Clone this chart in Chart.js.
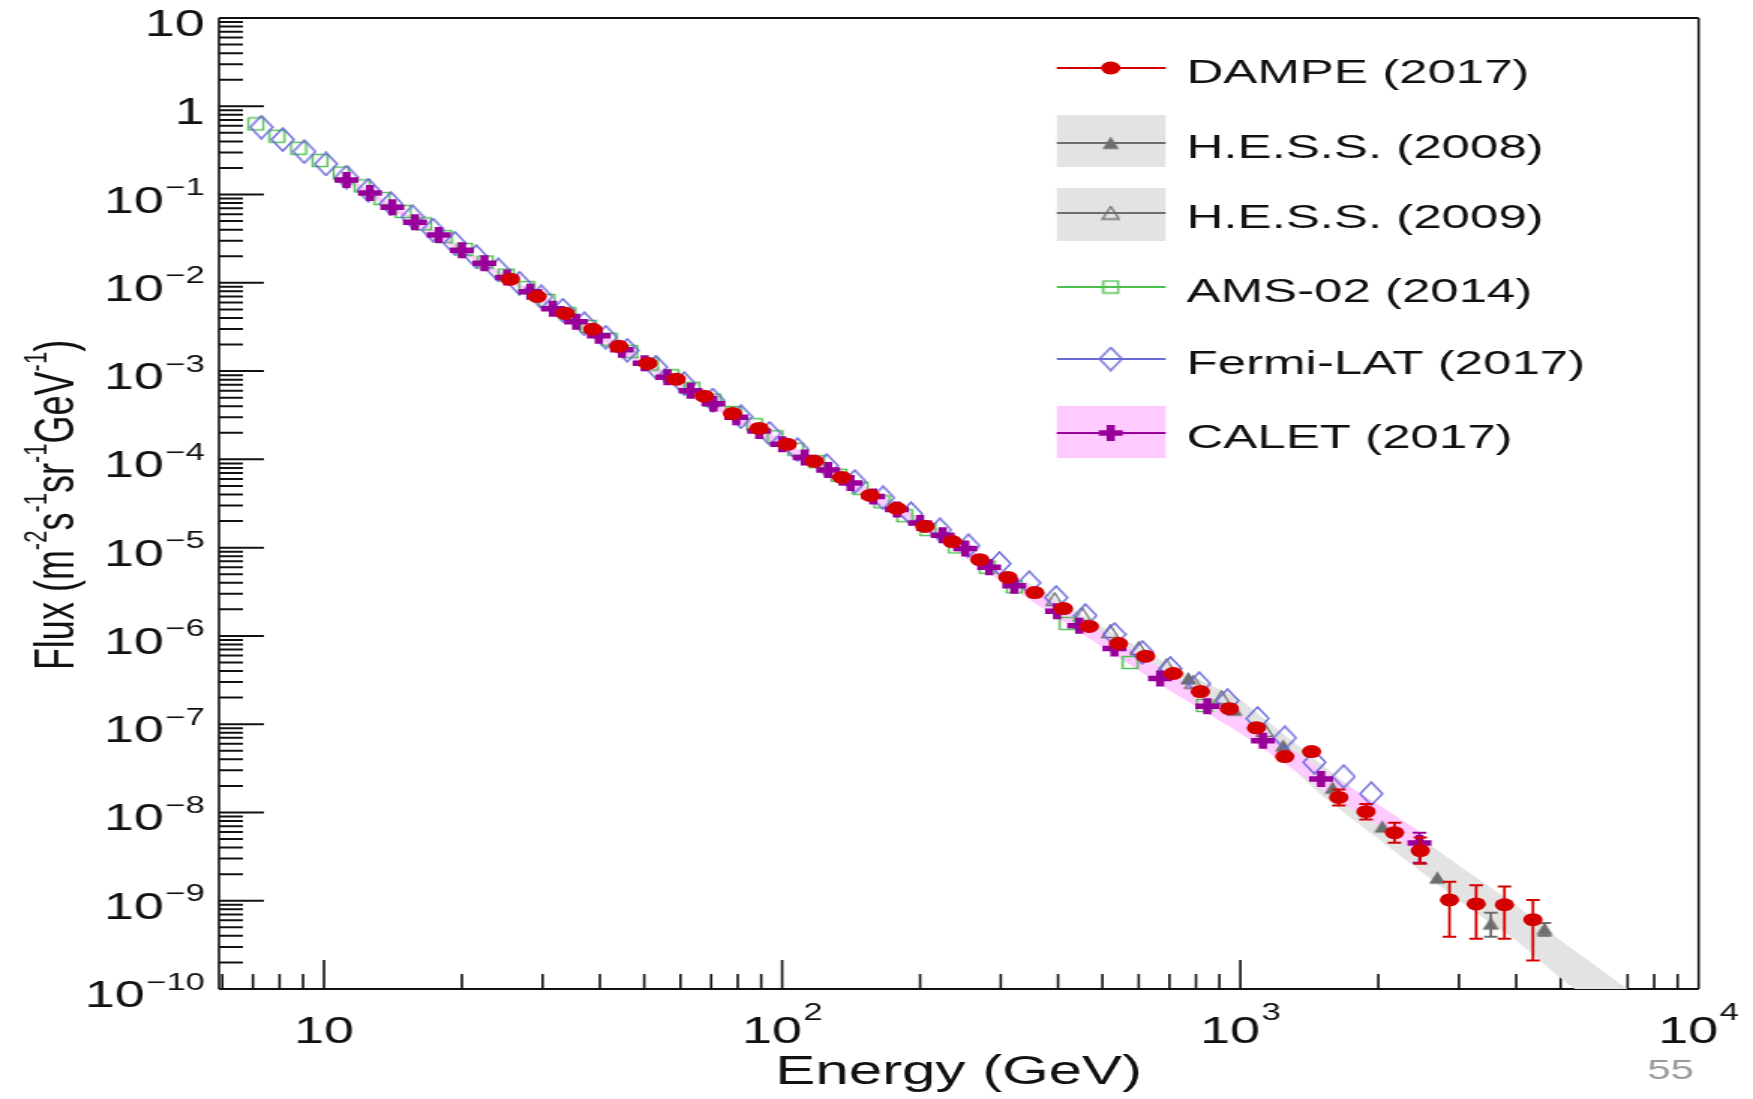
<!DOCTYPE html>
<html lang="en">
<head>
<meta charset="utf-8">
<title>Electron + positron flux</title>
<script src="https://cdn.jsdelivr.net/npm/chart.js@4.4.1/dist/chart.umd.min.js"></script>
<style>
    html, body { margin: 0; padding: 0; background: #ffffff; overflow: hidden; }
    /* o slide original foi esticado na horizontal: desenha estreito e alarga */
    #palco { width: 1169px; height: 1099px; transform: scaleX(1.49957); transform-origin: 0 0; }
    #grafico { display: block; }
</style>
</head>
<body>
<div id="palco"><canvas id="grafico" width="1169" height="1099"></canvas></div>
<script>
// DAMPE (2017)
const dampeE = [25.5, 29.2, 33.6, 38.6, 44.0, 50.9, 58.7, 67.6, 77.9, 89.1, 102.6, 117.5, 135, 155.7, 178, 205, 235, 270, 311, 356, 411, 468, 542, 621, 714, 818, 946, 1084, 1250, 1430, 1640, 1880, 2170, 2470, 2860, 3270, 3770, 4350];
const dampeF = [1.1e-2, 7.0e-3, 4.5e-3, 2.98e-3, 1.91e-3, 1.22e-3, 8.1e-4, 5.2e-4, 3.3e-4, 2.24e-4, 1.48e-4, 9.5e-5, 6.25e-5, 3.9e-5, 2.78e-5, 1.74e-5, 1.17e-5, 7.3e-6, 4.6e-6, 3.1e-6, 2.04e-6, 1.28e-6, 8.2e-7, 5.9e-7, 3.75e-7, 2.34e-7, 1.5e-7, 9.1e-8, 4.3e-8, 4.9e-8, 1.48e-8, 1.02e-8, 5.9e-9, 3.7e-9, 1.02e-9, 9.2e-10, 9.0e-10, 6.1e-10];
const dampeLo = [null, null, null, null, null, null, null, null, null, null, null, null, null, null, null, null, null, null, null, null, null, null, null, null, null, null, null, null, null, null, 1.2e-8, 8.3e-9, 4.55e-9, 2.63e-9, 3.9e-10, 3.7e-10, 3.7e-10, 2.1e-10];
const dampeHi = [null, null, null, null, null, null, null, null, null, null, null, null, null, null, null, null, null, null, null, null, null, null, null, null, null, null, null, null, null, null, 1.82e-8, 1.25e-8, 7.65e-9, 5.2e-9, 1.64e-9, 1.5e-9, 1.45e-9, 1.02e-9];

// H.E.S.S. (2008) e (2009)
const hess08E = [770, 970, 1240, 1590, 2040, 2690, 3520, 4610];
const hess08F = [3.3e-7, 1.45e-7, 5.7e-8, 1.9e-8, 6.9e-9, 1.82e-9, 5.5e-10, 4.8e-10];
const hess08Lo = [null, null, null, null, null, null, 3.9e-10, 4.0e-10];
const hess08Hi = [null, null, null, null, null, null, 7.3e-10, 5.6e-10];
const hess09E = [393, 452, 520, 600, 690, 790, 910, 1130];
const hess09F = [2.6e-6, 1.75e-6, 1.12e-6, 7.2e-7, 4.6e-7, 3.0e-7, 2.0e-7, 8.5e-8];

// faixa sistematica H.E.S.S.
const hessBandE = [340, 500, 700, 1000, 1500, 2000, 3000, 4000, 5000, 7000, 8000];
const hessBandHi = [4.2e-6, 1.26e-6, 4.7e-7, 1.9e-7, 3.55e-8, 1.12e-8, 2.5e-9, 8.9e-10, 3.55e-10, 1.0e-10, 5.6e-11];
const hessBandLo = [3.2e-6, 9.1e-7, 3.2e-7, 1.12e-7, 1.58e-8, 5.0e-9, 1.0e-9, 3.55e-10, 1.32e-10, 3.55e-11, 2.0e-11];

// AMS-02 (2014)
const amsE = [7.1, 7.9, 8.8, 9.8, 10.9, 12.1, 13.4, 14.9, 16.5, 18.3, 20.3, 22.5, 25.0, 27.7, 30.7, 34.1, 37.8, 41.9, 46.5, 51.6, 57.2, 63.5, 70.5, 78.3, 87.0, 96.6, 107, 119, 133, 148, 165, 185, 208, 240, 280, 321, 419, 575, 834];
const amsF = [0.63, 0.458, 0.335, 0.243, 0.175, 0.125, 0.090, 0.0643, 0.0465, 0.0333, 0.0239, 0.0172, 0.01225, 0.00883, 0.00631, 0.00447, 0.00321, 0.0023, 0.00166, 0.0012, 8.85e-4, 6.4e-4, 4.69e-4, 3.4e-4, 2.47e-4, 1.8e-4, 1.3e-4, 9.4e-5, 6.6e-5, 4.7e-5, 3.3e-5, 2.3e-5, 1.6e-5, 1.02e-5, 6.0e-6, 3.6e-6, 1.38e-6, 5.0e-7, 1.63e-7];

// Fermi-LAT (2017)
const fermiE = [7.3, 8.13, 9.06, 10.1, 11.2, 12.5, 14.0, 15.6, 17.3, 19.3, 21.5, 24.0, 26.7, 29.8, 33.2, 37.0, 41.2, 45.9, 53.0, 61.1, 70.5, 81.3, 93.8, 108, 125, 144, 166, 191, 221, 255, 298, 346, 396, 459, 531, 611, 703, 813, 937, 1090, 1250, 1450, 1680, 1930];
const fermiF = [0.58, 0.42, 0.306, 0.222, 0.158, 0.112, 0.079, 0.056, 0.0396, 0.028, 0.0198, 0.014, 0.00989, 0.00695, 0.00489, 0.00344, 0.00242, 0.00172, 0.00111, 7.2e-4, 4.7e-4, 3.04e-4, 1.97e-4, 1.29e-4, 8.5e-5, 5.6e-5, 3.67e-5, 2.42e-5, 1.59e-5, 1.05e-5, 6.6e-6, 4.0e-6, 2.72e-6, 1.70e-6, 1.04e-6, 6.5e-7, 4.27e-7, 2.88e-7, 1.85e-7, 1.16e-7, 7.0e-8, 3.7e-8, 2.55e-8, 1.63e-8];

// CALET (2017)
const calE = [11.2, 12.6, 14.1, 15.8, 17.8, 20.0, 22.4, 25.1, 28.2, 31.6, 35.5, 39.8, 44.7, 50.1, 56.2, 63.1, 70.8, 79.4, 89.1, 100, 112, 126, 141, 158, 178, 200, 224, 251, 283, 321, 398, 445, 531, 668, 847, 1120, 1500, 2460];
const calF = [0.146, 0.104, 0.072, 0.0486, 0.0347, 0.0234, 0.0167, 0.0115, 0.0079, 0.0051, 0.00363, 0.00251, 0.00174, 0.00123, 8.5e-4, 6.0e-4, 4.27e-4, 3.0e-4, 2.09e-4, 1.48e-4, 1.05e-4, 7.6e-5, 5.4e-5, 3.8e-5, 2.7e-5, 1.9e-5, 1.38e-5, 9.8e-6, 6.0e-6, 3.7e-6, 1.9e-6, 1.3e-6, 7.2e-7, 3.3e-7, 1.6e-7, 6.5e-8, 2.4e-8, 4.5e-9];
const calLo = calE.map(function (e) { return e === 2460 ? 2.7e-9 : null; });
const calHi = calE.map(function (e) { return e === 2460 ? 5.9e-9 : null; });

// faixa sistematica CALET
const calBandE = [11, 20, 50, 100, 200, 400, 700, 1000, 1500, 2000, 2500];
const calBandHi = [0.17, 0.0251, 1.35e-3, 1.66e-4, 2.19e-5, 2.29e-6, 3.8e-7, 1.26e-7, 3.1e-8, 1.23e-8, 5.75e-9];
const calBandLo = [0.148, 0.0219, 1.12e-3, 1.32e-4, 1.66e-5, 1.58e-6, 2.4e-7, 7.9e-8, 1.86e-8, 7.1e-9, 3.16e-9];

// rotulos dos eixos
const yTickValues = [10, 1, 1e-1, 1e-2, 1e-3, 1e-4, 1e-5, 1e-6, 1e-7, 1e-8, 1e-9, 1e-10];
const yTickBase = ["10", "1", "10", "10", "10", "10", "10", "10", "10", "10", "10", "10"];
const yTickSup = ["", "", "\u22121", "\u22122", "\u22123", "\u22124", "\u22125", "\u22126", "\u22127", "\u22128", "\u22129", "\u221210"];
const xTickValues = [10, 100, 1000, 10000];
const xTickBase = ["10", "10", "10", "10"];
const xTickSup = ["", "2", "3", "4"];

const corVermelho = "#d40000";
const corCinza = "#6e6e6e";
const corVerde = "#4cc04c";
const corAzul = "#6a6ad8";
const corRoxo = "#990099";
const corFaixaCinza = "#e3e3e3";
const corFaixaRosa = "#ffcaff";
const fonte = "\"Liberation Sans\", Arial, Helvetica, sans-serif";

function pontos(xs, ys) {
    return xs.map(function (x, i) { return { x: x, y: ys[i] }; });
}

function criarMarcador(w, h, desenho) {
    const c = document.createElement("canvas");
    c.width = w;
    c.height = h;
    desenho(c.getContext("2d"), w, h);
    return c;
}

const marcaDiamante = criarMarcador(17, 25, function (g, w, h) {
    g.strokeStyle = corAzul;
    g.lineWidth = 1.4;
    g.beginPath();
    g.moveTo(w / 2, 1);
    g.lineTo(w - 1, h / 2);
    g.lineTo(w / 2, h - 1);
    g.lineTo(1, h / 2);
    g.closePath();
    g.stroke();
});

const marcaQuadrado = criarMarcador(13, 15, function (g, w, h) {
    g.strokeStyle = corVerde;
    g.lineWidth = 1.4;
    g.strokeRect(1.5, 1.5, w - 3, h - 3);
});

function triangulo(cheio) {
    return criarMarcador(13, 15, function (g, w, h) {
        g.beginPath();
        g.moveTo(w / 2, 1);
        g.lineTo(w - 1, h - 1.5);
        g.lineTo(1, h - 1.5);
        g.closePath();
        if (cheio) {
            g.fillStyle = corCinza;
            g.fill();
        } else {
            g.strokeStyle = corCinza;
            g.lineWidth = 1.3;
            g.stroke();
        }
    });
}

function faixa(xs, ys, ordem, preenchimento, cor) {
    return {
        type: "line",
        data: pontos(xs, ys),
        order: ordem,
        showLine: true,
        borderWidth: 0,
        borderColor: "rgba(0,0,0,0)",
        backgroundColor: cor || "rgba(0,0,0,0)",
        pointRadius: 0,
        fill: preenchimento,
        tension: 0
    };
}

// desenha texto do tipo 10^{-n}
function medirRotulo(ctx, base, exp, tamBase, tamExp) {
    ctx.font = tamBase + "px " + fonte;
    const wb = ctx.measureText(base).width;
    ctx.font = tamExp + "px " + fonte;
    const we = exp ? ctx.measureText(exp).width + 1 : 0;
    return [wb, we];
}

const pluginEixos = {
    id: "eixosRoot",
    beforeDatasetsDraw(chart) {
        const ctx = chart.ctx;
        const a = chart.chartArea;
        const x = chart.scales.x;
        const y = chart.scales.y;
        ctx.save();
        ctx.strokeStyle = "#111111";
        ctx.lineWidth = 2;
        ctx.beginPath();
        ctx.moveTo(a.left, a.top);
        ctx.lineTo(a.right, a.top);
        ctx.moveTo(a.left, a.bottom);
        ctx.lineTo(a.right, a.bottom);
        ctx.stroke();
        ctx.lineWidth = 1.6;
        ctx.beginPath();
        ctx.moveTo(a.left, a.top);
        ctx.lineTo(a.left, a.bottom);
        ctx.moveTo(a.right, a.top);
        ctx.lineTo(a.right, a.bottom);
        ctx.stroke();

        // marcas do eixo y
        ctx.lineWidth = 2;
        ctx.beginPath();
        for (let e = -10; e <= 0; e++) {
            for (let k = 1; k <= 9; k++) {
                const py = y.getPixelForValue(k * Math.pow(10, e));
                ctx.moveTo(a.left, py);
                ctx.lineTo(a.left + (k === 1 ? 30 : 16), py);
            }
        }
        ctx.stroke();

        // marcas do eixo x
        ctx.lineWidth = 1.6;
        ctx.beginPath();
        for (let e = 0; e <= 3; e++) {
            for (let k = 1; k <= 9; k++) {
                const v = k * Math.pow(10, e);
                if (v < x.min) continue;
                const px = x.getPixelForValue(v);
                ctx.moveTo(px, a.bottom);
                ctx.lineTo(px, a.bottom - (k === 1 ? 29 : 15));
            }
        }
        ctx.stroke();
        ctx.restore();
    },
    afterDraw(chart) {
        const ctx = chart.ctx;
        const a = chart.chartArea;
        const x = chart.scales.x;
        const y = chart.scales.y;
        ctx.save();
        ctx.fillStyle = "#111111";
        ctx.textAlign = "left";
        ctx.textBaseline = "alphabetic";

        yTickValues.forEach(function (v, i) {
            const py = y.getPixelForValue(v);
            const w = medirRotulo(ctx, yTickBase[i], yTickSup[i], 36, 23);
            const x0 = a.left - 9.5 - w[0] - w[1];
            ctx.font = "36px " + fonte;
            ctx.fillText(yTickBase[i], x0, py + 18);
            if (yTickSup[i]) {
                ctx.font = "23px " + fonte;
                ctx.fillText(yTickSup[i], x0 + w[0] + 1, py + 0.5);
            }
        });

        xTickValues.forEach(function (v, i) {
            const px = x.getPixelForValue(v);
            const w = medirRotulo(ctx, xTickBase[i], xTickSup[i], 36, 23);
            const x0 = px - (w[0] + w[1]) / 2;
            ctx.font = "36px " + fonte;
            ctx.fillText(xTickBase[i], x0, a.bottom + 54);
            if (xTickSup[i]) {
                ctx.font = "23px " + fonte;
                ctx.fillText(xTickSup[i], x0 + w[0] + 1, a.bottom + 31);
            }
        });

        // titulos
        ctx.font = "40px " + fonte;
        ctx.textAlign = "center";
        ctx.fillText("Energy (GeV)", (a.left + a.right) / 2, 1084);

        const partes = [["Flux (m", false], ["-2", true], ["s", false], ["-1", true], ["sr", false], ["-1", true], ["GeV", false], ["-1", true], [")", false]];
        ctx.textAlign = "left";
        ctx.translate(48.7, 505);
        ctx.rotate(-Math.PI / 2);
        let total = 0;
        partes.forEach(function (p) {
            ctx.font = (p[1] ? 22 : 36) + "px " + fonte;
            total += ctx.measureText(p[0]).width;
        });
        let cx = -total / 2;
        partes.forEach(function (p) {
            ctx.font = (p[1] ? 22 : 36) + "px " + fonte;
            ctx.fillText(p[0], cx, p[1] ? -18 : 0);
            cx += ctx.measureText(p[0]).width;
        });
        ctx.restore();

        // numero da pagina
        ctx.save();
        ctx.font = "28px " + fonte;
        ctx.fillStyle = "#9a9a9a";
        ctx.textAlign = "center";
        ctx.fillText("55", 1114, 1079);
        ctx.restore();
    }
};

const pluginErros = {
    id: "barrasErro",
    beforeDatasetDraw(chart, args) {
        const ds = chart.data.datasets[args.index];
        if (!ds.erroBaixo) return;
        const ctx = chart.ctx;
        const x = chart.scales.x;
        const y = chart.scales.y;
        ctx.save();
        ctx.strokeStyle = ds.corErro;
        ds.data.forEach(function (p, i) {
            const lo = ds.erroBaixo[i];
            const hi = ds.erroAlto[i];
            if (lo == null) return;
            const px = x.getPixelForValue(p.x);
            const y0 = y.getPixelForValue(lo);
            const y1 = y.getPixelForValue(hi);
            ctx.lineWidth = 1.8;
            ctx.beginPath();
            ctx.moveTo(px, y0);
            ctx.lineTo(px, y1);
            ctx.stroke();
            ctx.lineWidth = 2;
            ctx.beginPath();
            ctx.moveTo(px - 4.5, y0);
            ctx.lineTo(px + 4.5, y0);
            ctx.moveTo(px - 4.5, y1);
            ctx.lineTo(px + 4.5, y1);
            ctx.stroke();
        });
        ctx.restore();
    }
};

const legX0 = 704.7;
const legX1 = 777.3;
const legMarca = 740.7;
const legTexto = 791.3;

const pluginLegenda = {
    id: "legendaRoot",
    afterDraw(chart) {
        const ctx = chart.ctx;
        ctx.save();
        chart.data.datasets.forEach(function (ds) {
            if (!ds.label) return;
            const yl = ds.legendaY;
            if (ds.legendaCaixa) {
                ctx.fillStyle = ds.legendaCaixa[2];
                ctx.fillRect(legX0, ds.legendaCaixa[0], legX1 - legX0, ds.legendaCaixa[1] - ds.legendaCaixa[0]);
            }
            ctx.strokeStyle = ds.legendaCor;
            ctx.lineWidth = 2;
            ctx.beginPath();
            ctx.moveTo(legX0, yl);
            ctx.lineTo(legX1, yl);
            ctx.stroke();

            if (ds.pointStyle === "circle") {
                ctx.fillStyle = ds.backgroundColor;
                ctx.beginPath();
                ctx.arc(legMarca, yl, ds.pointRadius, 0, Math.PI * 2);
                ctx.fill();
            } else if (ds.pointStyle === "cross") {
                ctx.strokeStyle = ds.borderColor;
                ctx.lineWidth = ds.borderWidth;
                ctx.beginPath();
                ctx.moveTo(legMarca - ds.pointRadius, yl);
                ctx.lineTo(legMarca + ds.pointRadius, yl);
                ctx.moveTo(legMarca, yl - ds.pointRadius);
                ctx.lineTo(legMarca, yl + ds.pointRadius);
                ctx.stroke();
            } else {
                const img = ds.pointStyle;
                ctx.fillStyle = "#ffffff";
                ctx.drawImage(img, legMarca - img.width / 2, yl - img.height / 2);
            }

            ctx.fillStyle = "#111111";
            ctx.font = "34px " + fonte;
            ctx.textAlign = "left";
            ctx.fillText(ds.label, legTexto, yl + 15);
        });
        ctx.restore();
    }
};

const conjuntos = [
    faixa(hessBandE, hessBandLo, 9, false),
    faixa(hessBandE, hessBandHi, 8, "-1", corFaixaCinza),
    faixa(calBandE, calBandLo, 7, false),
    faixa(calBandE, calBandHi, 6, "-1", corFaixaRosa),
    {
        label: "H.E.S.S. (2009)",
        data: pontos(hess09E, hess09F),
        order: 5,
        pointStyle: triangulo(false),
        pointRadius: 7,
        legendaY: 213,
        legendaCor: corCinza,
        legendaCaixa: [188, 241, corFaixaCinza]
    },
    {
        label: "H.E.S.S. (2008)",
        data: pontos(hess08E, hess08F),
        order: 4,
        pointStyle: triangulo(true),
        pointRadius: 7,
        erroBaixo: hess08Lo,
        erroAlto: hess08Hi,
        corErro: corCinza,
        legendaY: 143,
        legendaCor: corCinza,
        legendaCaixa: [115, 167, corFaixaCinza]
    },
    {
        label: "AMS-02 (2014)",
        data: pontos(amsE, amsF),
        order: 3,
        pointStyle: marcaQuadrado,
        pointRadius: 7,
        legendaY: 287,
        legendaCor: corVerde
    },
    {
        label: "Fermi-LAT (2017)",
        data: pontos(fermiE, fermiF),
        order: 2,
        pointStyle: marcaDiamante,
        pointRadius: 9,
        legendaY: 359,
        legendaCor: corAzul
    },
    {
        label: "CALET (2017)",
        data: pontos(calE, calF),
        order: 1,
        pointStyle: "cross",
        pointRadius: 8,
        borderWidth: 5.5,
        borderColor: corRoxo,
        backgroundColor: corRoxo,
        erroBaixo: calLo,
        erroAlto: calHi,
        corErro: corRoxo,
        legendaY: 433,
        legendaCor: corRoxo,
        legendaCaixa: [406, 458, corFaixaRosa]
    },
    {
        label: "DAMPE (2017)",
        data: pontos(dampeE, dampeF),
        order: 0,
        pointStyle: "circle",
        pointRadius: 6.5,
        borderWidth: 0,
        backgroundColor: corVermelho,
        erroBaixo: dampeLo,
        erroAlto: dampeHi,
        corErro: corVermelho,
        legendaY: 68,
        legendaCor: corVermelho
    }
];

try {
    new Chart(document.getElementById("grafico"), {
        type: "scatter",
        data: { datasets: conjuntos },
        options: {
            responsive: false,
            animation: false,
            devicePixelRatio: 1,
            events: [],
            layout: { padding: { left: 146, right: 36.3, top: 18, bottom: 110 } },
            scales: {
                x: { type: "logarithmic", min: 5.9, max: 10000, display: false },
                y: { type: "logarithmic", min: 1e-10, max: 10, display: false }
            },
            plugins: {
                legend: { display: false },
                tooltip: { enabled: false }
            }
        },
        plugins: [pluginEixos, pluginErros, pluginLegenda]
    });
} catch (error) {
    console.error("Erro ao desenhar grafico:", error);
}
</script>
</body>
</html>
